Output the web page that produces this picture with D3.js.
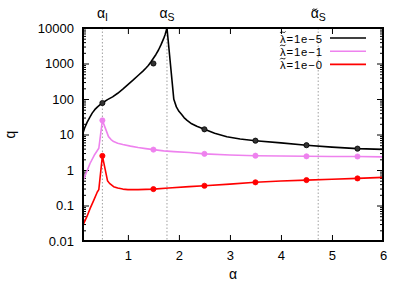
<!DOCTYPE html>
<html><head><meta charset="utf-8">
<script src="https://cdn.jsdelivr.net/npm/d3@7"></script>
<style>
body{margin:0;background:#fff}
svg{display:block}
text{font-family:"Liberation Sans",Arial,Helvetica,sans-serif;fill:#000}
</style>
</head><body>
<svg id="c" width="407" height="285"></svg>
<script>
// ---- data ----
const seriesNames = ["λ=1e−5", "λ=1e−1", "λ=1e−0"];   // λ carries a tilde mark
const seriesColors = ["#000000", "#ee82ee", "#ff0000"];

const blackAlpha = [0.12,0.15,0.2,0.25,0.3,0.35,0.4,0.45,0.5,0.6,0.7,0.8,0.9,1.0,1.1,1.2,1.3,1.35,1.4,1.45,1.5,1.55,1.6,1.65,1.7,1.73,1.766,1.9,1.95,2.0,2.05,2.1,2.16,2.25,2.35,2.5,2.7,2.94,3.2,3.5,4.0,4.5,5.0,5.5,6.0];
const blackQ     = [11,15,22,30,40,50,59,68,77,96,115,145,190,255,340,460,620,735,880,1100,1400,1800,2400,3400,5000,6600,10000,98,60,45,37,30,25,20,17,14,10.8,8.6,7.5,6.7,5.8,5.0,4.4,4.0,3.8];

const violetAlpha = [0.12,0.2,0.26,0.34,0.43,0.5,0.62,0.67,0.72,0.8,0.9,1.05,1.2,1.35,1.5,1.7,1.9,2.2,2.5,3.0,3.5,4.0,4.5,5.0,5.5,6.0];
const violetQ     = [0.5,0.95,1.55,2.6,4.1,25,8.7,7.2,6.3,5.7,5.2,4.7,4.3,4.0,3.75,3.45,3.3,3.1,2.85,2.65,2.53,2.47,2.43,2.41,2.4,2.35];

const redAlpha = [0.12,0.2,0.26,0.33,0.4,0.43,0.5,0.6,0.64,0.72,0.8,0.9,1.0,1.2,1.5,1.8,2.2,2.5,3.0,3.5,4.0,4.5,5.0,5.5,6.0];
const redQ     = [0.028,0.05,0.083,0.14,0.24,0.28,2.5,0.5,0.42,0.34,0.31,0.29,0.28,0.28,0.29,0.31,0.34,0.36,0.4,0.45,0.49,0.52,0.55,0.58,0.62];

const markAlpha   = [0.5,1.5,2.5,3.5,4.5,5.5];
const blackMarkQ  = [77,1000,14,6.7,5.0,4.0];
const violetMarkQ = [25,3.75,2.85,2.53,2.43,2.4];
const redMarkQ    = [2.5,0.29,0.36,0.45,0.52,0.58];

const refAlpha  = [0.5, 1.766, 4.73];
const refTilde  = [false, false, true];
const refSub    = ["I", "S", "S"];

const xTicks = [1,2,3,4,5,6];
const xTickLabels = ["1","2","3","4","5","6"];
const yTicks = [0.01,0.1,1,10,100,1000,10000];
const yTickLabels = ["0.01","0.1","1","10","100","1000","10000"];
const xLabel = "α", yLabel = "q";

// ---- layout ----
const L = 83, R = 383, T = 28, B = 241;
const svg = d3.select("#c");
const x = d3.scaleLinear().domain([0.12, 6]).range([L, R]);
const y = d3.scaleLog().domain([0.01, 10000]).range([B, T]);

// small tilde mark centred at (cx, cy)
function tilde(cx, cy, w) {
  const h = w * 0.22;
  svg.append("path")
    .attr("d", `M${cx - w/2},${cy + h*0.6} C${cx - w/4},${cy - h*1.6} ${cx + w/4},${cy + h*1.6} ${cx + w/2},${cy - h*0.6}`)
    .attr("fill", "none").attr("stroke", "#000").attr("stroke-width", 0.9);
}

// reference lines
svg.append("g").selectAll("line").data(refAlpha).join("line")
  .attr("x1", d => x(d)).attr("x2", d => x(d))
  .attr("y1", T).attr("y2", B)
  .attr("stroke", "#a0a0a0").attr("stroke-width", 1).attr("stroke-dasharray", "1.5,2");

// top labels
refAlpha.forEach((a, i) => {
  const t = svg.append("text").attr("x", x(a)).attr("y", 18).attr("text-anchor", "middle");
  t.append("tspan").attr("font-size", 14).text("α");
  t.append("tspan").attr("dy", 3).attr("font-size", 10.5).text(refSub[i]);
  if (refTilde[i]) {
    const n = t.node();
    const p = n.getStartPositionOfChar(0);
    const e = n.getEndPositionOfChar(0);
    tilde((p.x + e.x) / 2, 9.3, 5);
  }
});

// minor y ticks
const minor = [];
for (let e = -2; e < 4; e++) for (let m = 2; m <= 9; m++) minor.push(m * Math.pow(10, e));

svg.append("g").attr("transform", `translate(${L},0)`)
  .call(d3.axisLeft(y).tickValues(minor).tickSizeInner(-3).tickSizeOuter(0).tickFormat(""))
  .call(g => g.select(".domain").remove());
svg.append("g").attr("transform", `translate(${R},0)`)
  .call(d3.axisRight(y).tickValues(minor).tickSizeInner(-3).tickSizeOuter(0).tickFormat(""))
  .call(g => g.select(".domain").remove());

// major y ticks
svg.append("g").attr("transform", `translate(${L},0)`)
  .call(d3.axisLeft(y).tickValues(yTicks).tickSizeInner(-6).tickSizeOuter(0).tickPadding(9)
    .tickFormat((d,i) => yTickLabels[i]))
  .call(g => g.select(".domain").remove())
  .call(g => g.selectAll("text").attr("font-size", 13).attr("fill", "#000"));
svg.append("g").attr("transform", `translate(${R},0)`)
  .call(d3.axisRight(y).tickValues(yTicks).tickSizeInner(-6).tickSizeOuter(0).tickFormat(""))
  .call(g => g.select(".domain").remove());

// x ticks
svg.append("g").attr("transform", `translate(0,${B})`)
  .call(d3.axisBottom(x).tickValues(xTicks).tickSizeInner(-6).tickSizeOuter(0).tickPadding(10)
    .tickFormat((d,i) => xTickLabels[i]))
  .call(g => g.select(".domain").remove())
  .call(g => g.selectAll("text").attr("font-size", 13).attr("fill", "#000"));
svg.append("g").attr("transform", `translate(0,${T})`)
  .call(d3.axisTop(x).tickValues(xTicks).tickSizeInner(-6).tickSizeOuter(0).tickFormat(""))
  .call(g => g.select(".domain").remove());

svg.selectAll(".tick line").attr("stroke", "#000").attr("stroke-width", 1);

// curves
const line = d3.line().x(d => x(d[0])).y(d => y(d[1])).curve(d3.curveLinear);
const series = [
  {a: blackAlpha, q: blackQ, mq: blackMarkQ},
  {a: violetAlpha, q: violetQ, mq: violetMarkQ},
  {a: redAlpha, q: redQ, mq: redMarkQ}
];
const plot = svg.append("g");
series.slice().reverse().forEach((s, ri) => {
  const i = series.length - 1 - ri;
  plot.append("path").datum(s.a.map((a, k) => [a, s.q[k]]))
    .attr("d", line).attr("fill", "none").attr("stroke", seriesColors[i])
    .attr("stroke-width", 1.6).attr("stroke-linejoin", "round");
  plot.append("g").selectAll("circle").data(markAlpha.map((a, k) => [a, s.mq[k]])).join("circle")
    .attr("cx", d => x(d[0])).attr("cy", d => y(d[1])).attr("r", 2.6)
    .attr("fill", i === 0 ? "#333" : seriesColors[i])
    .attr("stroke", i === 0 ? "#000" : seriesColors[i]).attr("stroke-width", 0.8);
});

// frame
svg.append("rect").attr("x", L).attr("y", T).attr("width", R - L).attr("height", B - T)
  .attr("fill", "none").attr("stroke", "#000").attr("stroke-width", 2);

// legend
seriesNames.forEach((name, i) => {
  const ly = 38 + i * 13.2;
  const t = svg.append("text").attr("x", 322).attr("y", ly + 4.5)
    .attr("text-anchor", "end").attr("font-size", 11.3)
    .attr("textLength", 42).attr("lengthAdjust", "spacing").text(name);
  const n = t.node();
  const p = n.getStartPositionOfChar(0);
  const e = n.getEndPositionOfChar(0);
  tilde((p.x + e.x) / 2, ly - 5.8, 5.5);
  svg.append("line").attr("x1", 330).attr("x2", 366).attr("y1", ly).attr("y2", ly)
    .attr("stroke", seriesColors[i]).attr("stroke-width", 1.6);
});

// axis labels
svg.append("text").attr("x", (L + R) / 2).attr("y", 279).attr("text-anchor", "middle")
  .attr("font-size", 14).text(xLabel);
svg.append("text").attr("transform", `translate(15,${(T + B) / 2}) rotate(-90)`)
  .attr("text-anchor", "middle").attr("font-size", 14).text(yLabel);
</script>
</body></html>
